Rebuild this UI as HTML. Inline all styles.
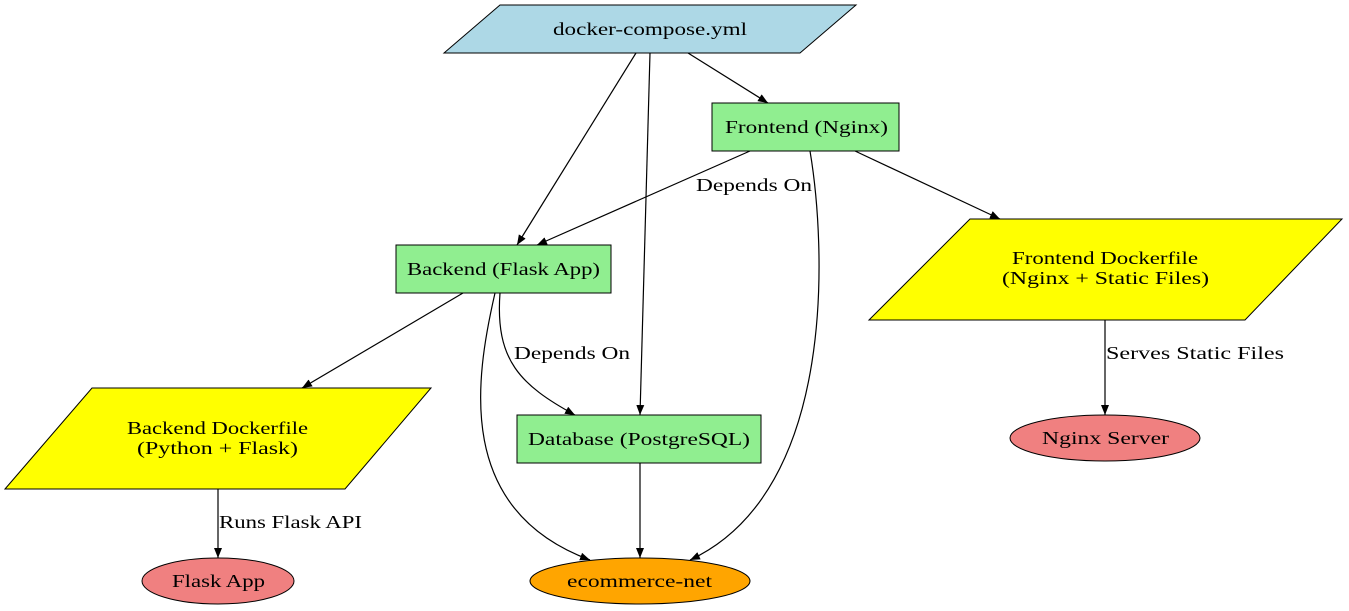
<!DOCTYPE html>
<html><head><meta charset="utf-8"><style>
html,body{margin:0;padding:0;background:#fff;}
svg{display:block;}
text{font-family:"Liberation Serif",serif;font-size:18px;fill:#000;}
</style></head><body>
<svg width="1349" height="611" viewBox="0 0 1349 611" xmlns="http://www.w3.org/2000/svg">
<defs><marker id="a" markerWidth="10" markerHeight="8" refX="10" refY="4" orient="auto" markerUnits="userSpaceOnUse"><path d="M0,0 L10,4 L0,8 z" fill="#000"/></marker></defs>
<g fill="none" stroke="#000" stroke-width="1.2" marker-end="url(#a)">
<path d="M688,53 L768,103"/>
<path d="M636,53 L517,245"/>
<path d="M650,53 L640,415"/>
<path d="M750,151 L537,245"/>
<path d="M855,151 L1000,219"/>
<path d="M810,151 C825,240 840,490 690,560"/>
<path d="M463,293 L302,388"/>
<path d="M500,293 C495,360 520,385 575,415"/>
<path d="M495,293 C475,380 455,510 590,560"/>
<path d="M640,463 L640,558"/>
<path d="M1105,320 L1105,415"/>
<path d="M218,489 L218,558"/>
</g>
<g stroke="#000" stroke-width="1">
<polygon points="444,53 500,5 856,5 800,53" fill="#add8e6"/>
<rect x="712" y="103" width="187" height="48" fill="#90ee90"/>
<rect x="396" y="245" width="215" height="48" fill="#90ee90"/>
<polygon points="869,320 970,219 1342,219 1245,320" fill="#ffff00"/>
<polygon points="5,489 92,388 431,388 345,489" fill="#ffff00"/>
<rect x="517" y="415" width="244" height="48" fill="#90ee90"/>
<ellipse cx="1105" cy="438" rx="95" ry="23" fill="#f08080"/>
<ellipse cx="218" cy="581" rx="76" ry="23" fill="#f08080"/>
<ellipse cx="640" cy="581" rx="110" ry="23" fill="#ffa500"/>
</g>
<g lengthAdjust="spacingAndGlyphs">
<text x="553" y="35" textLength="194" lengthAdjust="spacingAndGlyphs">docker-compose.yml</text>
<text x="725" y="133" textLength="163" lengthAdjust="spacingAndGlyphs">Frontend (Nginx)</text>
<text x="407" y="275" textLength="193" lengthAdjust="spacingAndGlyphs">Backend (Flask App)</text>
<text x="1012" y="264" textLength="186" lengthAdjust="spacingAndGlyphs">Frontend Dockerfile</text>
<text x="1002" y="284" textLength="207" lengthAdjust="spacingAndGlyphs">(Nginx + Static Files)</text>
<text x="127" y="434" textLength="181" lengthAdjust="spacingAndGlyphs">Backend Dockerfile</text>
<text x="137" y="454" textLength="161" lengthAdjust="spacingAndGlyphs">(Python + Flask)</text>
<text x="528" y="445" textLength="222" lengthAdjust="spacingAndGlyphs">Database (PostgreSQL)</text>
<text x="1042" y="444" textLength="127" lengthAdjust="spacingAndGlyphs">Nginx Server</text>
<text x="172" y="587" textLength="93" lengthAdjust="spacingAndGlyphs">Flask App</text>
<text x="567" y="587" textLength="145" lengthAdjust="spacingAndGlyphs">ecommerce-net</text>
<text x="696" y="191" textLength="116" lengthAdjust="spacingAndGlyphs">Depends On</text>
<text x="514" y="359" textLength="116" lengthAdjust="spacingAndGlyphs">Depends On</text>
<text x="1106" y="359" textLength="178" lengthAdjust="spacingAndGlyphs">Serves Static Files</text>
<text x="219" y="528" textLength="143" lengthAdjust="spacingAndGlyphs">Runs Flask API</text>
</g>
</svg>
</body></html>
